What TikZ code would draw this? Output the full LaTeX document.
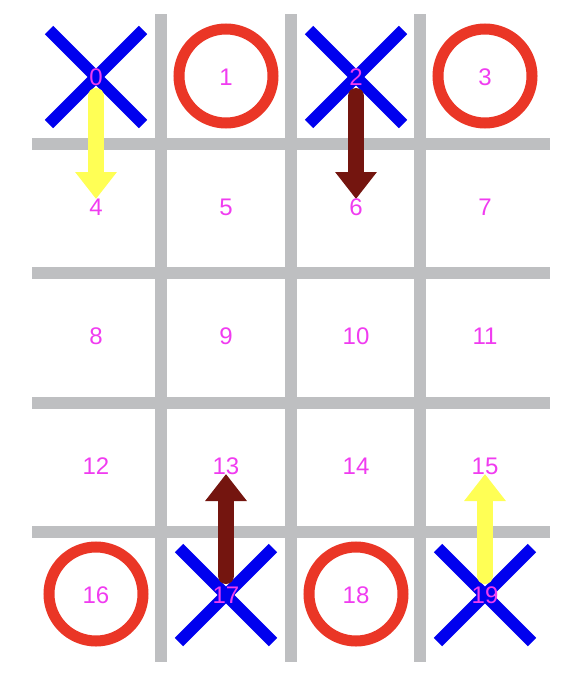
\documentclass[tikz,border=0pt]{standalone}
\usepackage{fontspec}
\setmainfont{Liberation Sans}
\usetikzlibrary{arrows.meta}
\definecolor{gridgray}{RGB}{190,191,193}
\definecolor{xblue}{RGB}{0,0,238}
\definecolor{ored}{RGB}{234,54,38}
\definecolor{lblmag}{RGB}{240,60,240}
\definecolor{ayellow}{RGB}{255,255,85}
\definecolor{adark}{RGB}{116,21,15}
\tikzset{
  gridline/.style={draw=gridgray, line width=12.5pt},
  xmark/.style={draw=xblue, line width=12pt},
  omark/.style={draw=ored, line width=11pt},
  lbl/.style={inner sep=0pt, text=lblmag, font=\fontsize{24}{24}\selectfont},
  movearrow/.style={line width=16pt, line cap=round, -{Triangle[width=40pt,length=27pt]}, shorten <=19pt, shorten >=8pt},
}
\begin{document}
\begin{tikzpicture}[x=1pt,y=-1pt]
\useasboundingbox (0,0) rectangle (582,688);
% grid
\foreach \gx in {161,291,420} \draw[gridline] (\gx,14) -- (\gx,662);
\foreach \gy in {144,273,403,532} \draw[gridline] (32,\gy) -- (550,\gy);
% cell centre coordinates
\foreach \r/\cy in {0/77,1/207,2/336,3/466,4/595} {
  \foreach \c/\cx in {0/96,1/226,2/356,3/485} {
    \pgfmathtruncatemacro{\idx}{4*\r+\c}
    \coordinate (p\idx) at (\cx,\cy);
  }
}
% X marks
\foreach \i in {0,2,17,19} {
  \draw[xmark] ([shift={(-47,-47)}]p\i) -- ([shift={(47,47)}]p\i);
  \draw[xmark] ([shift={(-47,47)}]p\i) -- ([shift={(47,-47)}]p\i);
}
% O marks
\foreach \i in {1,3,16,18} \draw[omark] ([yshift=1pt]p\i) circle (47);
% arrows
\draw[movearrow, draw=ayellow, fill=ayellow] (p0) -- (p4);
\draw[movearrow, draw=adark, fill=adark] (p2) -- (p6);
\draw[movearrow, draw=adark, fill=adark] (p17) -- (p13);
\draw[movearrow, draw=ayellow, fill=ayellow] (p19) -- (p15);
% labels
\foreach \i in {0,...,19} \node[lbl] (c\i) at (p\i) {\i};
\end{tikzpicture}
\end{document}
